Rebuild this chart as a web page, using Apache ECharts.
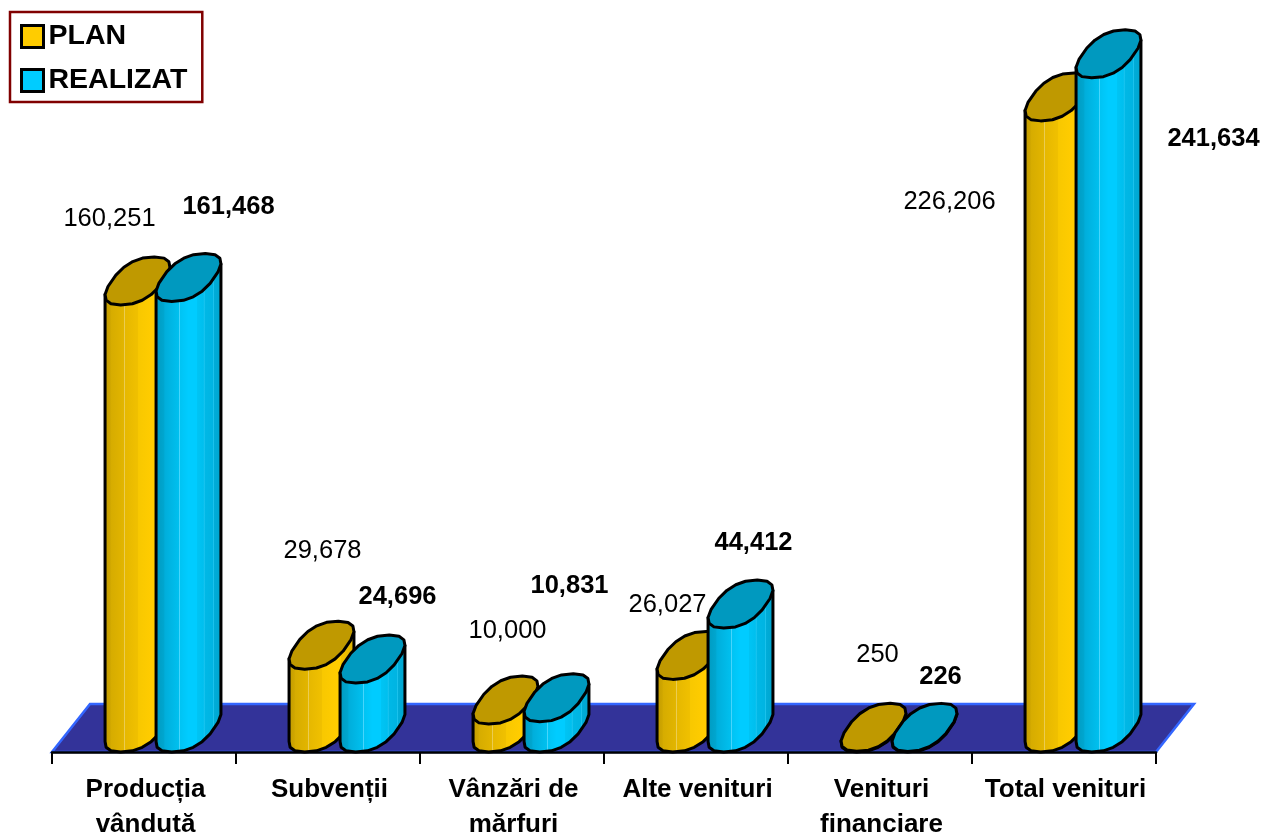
<!DOCTYPE html>
<html><head><meta charset="utf-8">
<style>html,body{margin:0;padding:0;background:#fff}#c{width:1266px;height:834px}</style>
<script src="https://cdn.jsdelivr.net/npm/echarts@6/dist/echarts.min.js"></script>
</head><body><div id="c"></div>
<script>
const categories = ['Producția\nvândută','Subvenții','Vânzări de\nmărfuri','Alte venituri','Venituri\nfinanciare','Total venituri'];
const planValues = [160251, 29678, 10000, 26027, 250, 226206];
const realizatValues = [161468, 24696, 10831, 44412, 226, 241634];
const planLabelOffsets = [[-28,-62],[1,-94],[2,-69],[-22,-50],[4,-72],[-108,105]];
const realizatLabelOffsets = [[40,-71],[25,-62],[13,-112],[13,-61],[16,-50],[105,85]];

const FONT = '"Liberation Sans", Arial, sans-serif';
const DEPTH_X = 38, DEPTH_Y = 48;
const RA = 26, RB = 16.5, RY = 24, SEG = 18, POWER = 0.82;

function fmt(v){ return String(v).replace(/\B(?=(\d{3})+(?!\d))/g, ','); }
function sp(u){ return Math.sign(u)*Math.pow(Math.abs(u), POWER); }
function rim(cx, cy, t){
  const c = sp(Math.cos(t)), s = sp(Math.sin(t));
  return [cx + RA*c + RB*s, cy - RY*s];
}
function ringAngles(){
  const a = [];
  for (let i = 0; i < SEG; i++) a.push(0.17 + i*2*Math.PI/SEG);
  return a;
}
function ringPoints(cx, cy){ return ringAngles().map(t => rim(cx, cy, t)); }
function stripes(stops){ return {type:'linear', x:0, y:0, x2:1, y2:0, colorStops:stops}; }
const planGrad = stripes([
  {offset:0,color:'#bf9900'},{offset:.1,color:'#cfa600'},{offset:.11,color:'#d6ac00'},{offset:.3,color:'#e2b500'},
  {offset:.31,color:'#ecd060'},{offset:.32,color:'#e6b800'},{offset:.5,color:'#f0c000'},{offset:.51,color:'#f8c800'},
  {offset:.7,color:'#ffcc00'},{offset:.78,color:'#ffcc00'},{offset:.79,color:'#f2c200'},{offset:.9,color:'#e8ba00'},{offset:1,color:'#d8ad00'}]);
const realGrad = stripes([
  {offset:0,color:'#0099bf'},{offset:.14,color:'#00a6cf'},{offset:.15,color:'#00aedb'},{offset:.36,color:'#00c0ef'},
  {offset:.37,color:'#60dcff'},{offset:.38,color:'#00c4f4'},{offset:.5,color:'#00ccff'},{offset:.62,color:'#00ccff'},
  {offset:.63,color:'#00c4f4'},{offset:.72,color:'#00bfee'},{offset:.73,color:'#30d0fa'},{offset:.74,color:'#00b8e6'},
  {offset:.86,color:'#00b4e2'},{offset:.87,color:'#20c4ee'},{offset:.88,color:'#00acd8'},{offset:1,color:'#00a4cd'}]);

function cylinderRenderer(shift, bodyFill, capFill, labelOffsets, bold){
  return function(params, api){
    const i = api.value(0), v = api.value(1);
    const band = api.size([1,0])[0];
    const top = api.coord([i, v]);
    const base = api.coord([i, 0]);
    const cx = top[0] + DEPTH_X/2 + shift*band;
    const capY = top[1] - DEPTH_Y/2;
    const baseY = base[1] - DEPTH_Y/2;
    const angles = ringAngles();
    let iMax = 0, iMin = 0;
    angles.forEach((t,k) => {
      if (rim(0,0,t)[0] > rim(0,0,angles[iMax])[0]) iMax = k;
      if (rim(0,0,t)[0] < rim(0,0,angles[iMin])[0]) iMin = k;
    });
    const body = [rim(cx, capY, angles[iMin])];
    for (let k = iMin, n = 0; n <= SEG; k = (k+1)%SEG, n++) {
      body.push(rim(cx, baseY, angles[k]));
      if (k === iMax) break;
    }
    body.push(rim(cx, capY, angles[iMax]));
    const line = {stroke:'#000', lineWidth:3, lineJoin:'round'};
    const off = labelOffsets[params.dataIndex];
    return {type:'group', children:[
      {type:'polygon', shape:{points:body}, style:Object.assign({fill:bodyFill}, line)},
      {type:'polygon', shape:{points:ringPoints(cx, capY)}, style:Object.assign({fill:capFill}, line)},
      {type:'text', style:{text:fmt(v), x:cx+off[0], y:capY+off[1], align:'center', verticalAlign:'middle',
        fill:'#000', font:(bold?'bold ':'')+'25.5px '+FONT}}
    ]};
  };
}
function floorRenderer(params, api){
  const band = api.size([1,0])[0];
  const a = api.coord([0,0]), b = api.coord([categories.length-1,0]);
  const x0 = a[0]-band/2, x1 = b[0]+band/2, y = a[1];
  return {type:'group', silent:true, children:[
    {type:'polygon', shape:{points:[[x0,y],[x1,y],[x1+DEPTH_X,y-DEPTH_Y],[x0+DEPTH_X,y-DEPTH_Y]]},
     style:{fill:'#333399', stroke:'#3366ff', lineWidth:2.5}}
  ]};
}
function rows(vals){ return vals.map((v,i)=>[i,v]); }

const chart = echarts.init(document.getElementById('c'), null, {renderer:'canvas'});
chart.setOption({
  animation:false,
  backgroundColor:'#fff',
  grid:{left:52, right:110, bottom:82, top:26.6, containLabel:false, outerBoundsMode:'none'},
  legend:{
    left:10, top:12, orient:'vertical', data:['PLAN','REALIZAT'], icon:'rect',
    padding:[10,15,7,10], itemWidth:22, itemHeight:22, itemGap:15,
    backgroundColor:'#fff', borderColor:'#800000', borderWidth:2.5, borderRadius:0,
    itemStyle:{borderColor:'#000', borderWidth:3},
    textStyle:{fontFamily:FONT, fontWeight:'bold', fontSize:28.5, color:'#000'},
    selectedMode:false
  },
  xAxis:{type:'category', data:categories, boundaryGap:true,
    axisLine:{lineStyle:{color:'#000', width:2.5}, onZero:false},
    axisTick:{show:true, length:12, lineStyle:{color:'#000', width:2}, alignWithLabel:false},
    axisLabel:{interval:0, margin:20, padding:[0,0,0,3], fontFamily:FONT, fontWeight:'bold', fontSize:26, lineHeight:35, color:'#000', align:'center'},
    splitLine:{show:false}, z:10},
  yAxis:{type:'value', min:0, max:260000, show:false, splitLine:{show:false}},
  series:[
    {type:'custom', name:'floor', coordinateSystem:'cartesian2d', data:[[0,0]], renderItem:floorRenderer, z:1, silent:true, encode:{x:0,y:1}, clip:false},
    {type:'custom', name:'PLAN', coordinateSystem:'cartesian2d', data:rows(planValues), z:2, clip:false, encode:{x:0,y:1},
      itemStyle:{color:'#ffcc00', borderColor:'#000', borderWidth:3},
      renderItem:cylinderRenderer(-25.5/184, planGrad, '#bf9900', planLabelOffsets, false)},
    {type:'custom', name:'REALIZAT', coordinateSystem:'cartesian2d', data:rows(realizatValues), z:3, clip:false, encode:{x:0,y:1},
      itemStyle:{color:'#00ccff', borderColor:'#000', borderWidth:3},
      renderItem:cylinderRenderer(25.5/184, realGrad, '#0099bf', realizatLabelOffsets, true)}
  ]
});
</script></body></html>
